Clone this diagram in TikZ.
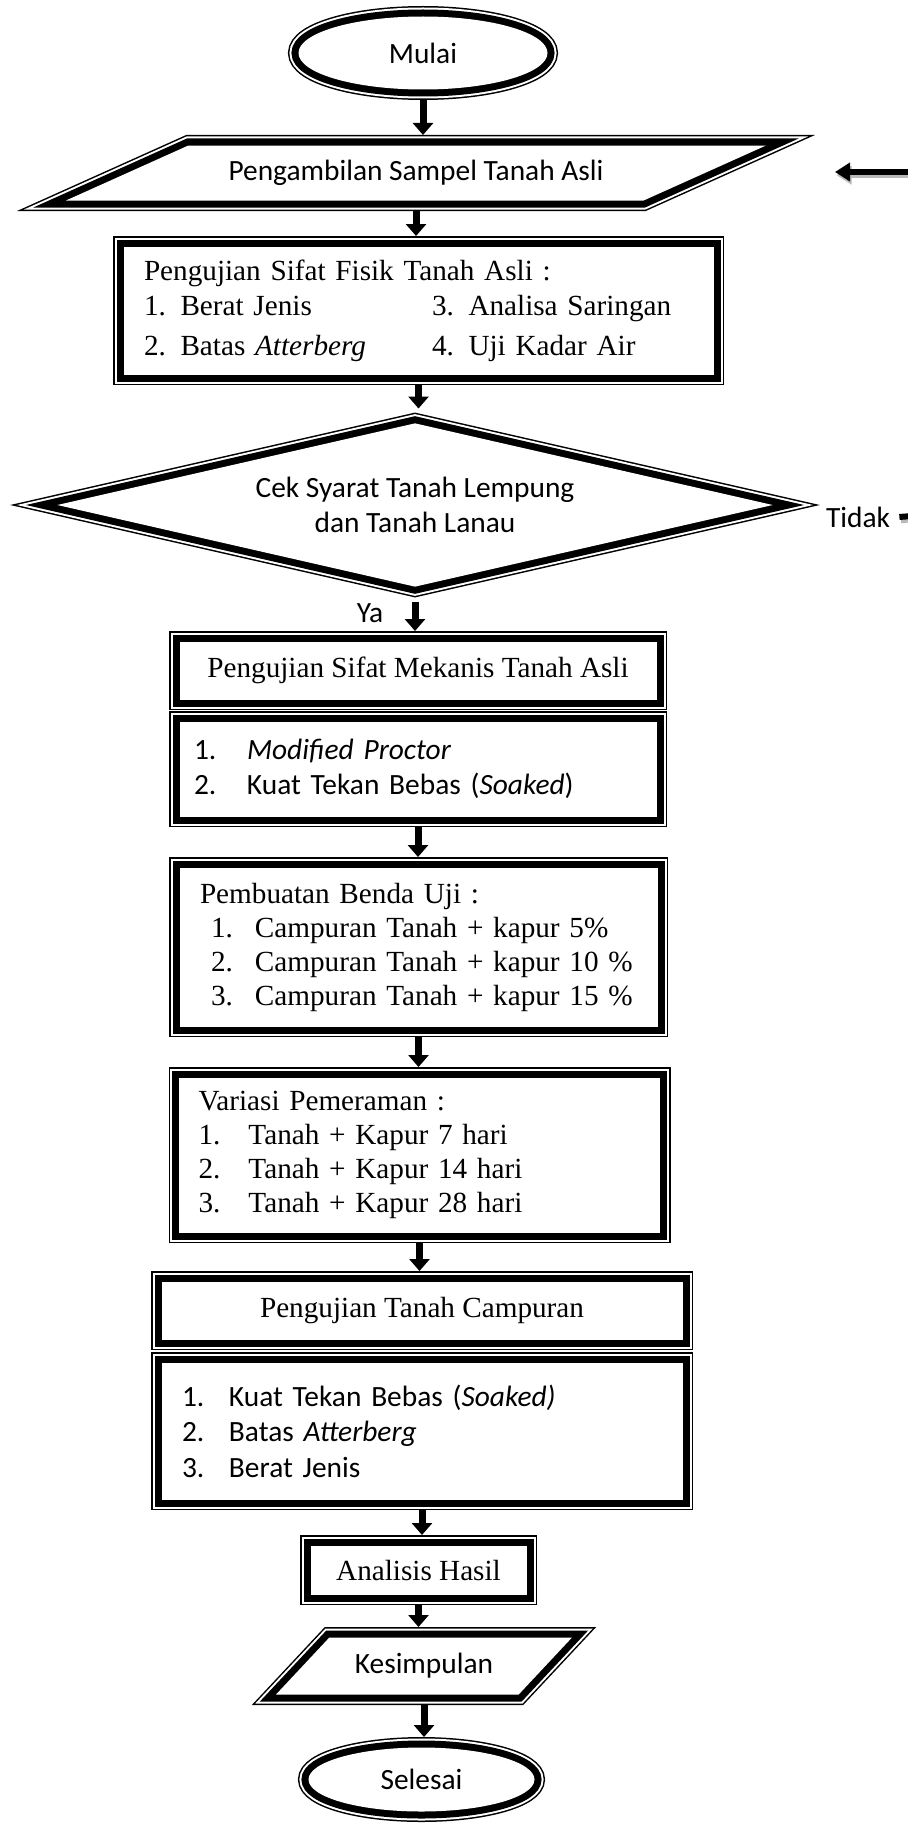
\documentclass[tikz,border=0pt]{standalone}
\usepackage{fontspec}
\setmainfont{Liberation Serif}
\newfontfamily\calibri{Carlito}
\usepackage{tikz}
\usetikzlibrary{shapes,arrows.meta}
\newcommand{\nomor}[2][26.5pt]{\makebox[#1][l]{#2}}
\tikzstyle{triple}=[preaction={draw,line width=10.5pt},preaction={draw=white,line width=9pt},draw,line width=7pt,postaction={fill=white,draw=none},outer sep=5.25pt,inner sep=0pt]
\tikzstyle{serif}=[font=\fontsize{14.6pt}{17pt}\selectfont]
\tikzstyle{sans}=[font=\fontsize{14.7pt}{17.75pt}\selectfont\calibri]
\tikzstyle{box}=[triple,rectangle,serif]
\tikzstyle{terminal}=[triple,ellipse,sans]
\tikzstyle{io}=[triple,trapezium,trapezium stretches body,sans,text height=10pt,text depth=3pt]
\tikzstyle{decision}=[triple,diamond,aspect=4.6,sans,align=center]
\tikzstyle{arr}=[line width=3.5pt,-{Triangle[width=10pt,length=6pt]}]
\tikzstyle{shadowed}=[line width=3pt,preaction={draw=gray!55,line width=3pt,transform canvas={xshift=0.8pt,yshift=-1.6pt}}]

\begin{document}
\begin{tikzpicture}[x=0.5pt,y=-0.5pt]
\useasboundingbox (0,0) rectangle (908,1825);

\node[terminal,minimum width=124.5pt,minimum height=36.5pt] (mulai) at (423,53) {Mulai};
\node[io,trapezium left angle=24.2,trapezium right angle=155.8,minimum width=350pt,inner ysep=7.25pt] (ambil) at (416,173) {Pengambilan Sampel Tanah Asli};
\node[box,minimum width=295pt,minimum height=64pt,inner xsep=10.25pt,text width=274.5pt,align=left,font=\fontsize{14.6pt}{17.5pt}\selectfont] (fisik) at (418.5,310.5) {Pengujian Sifat Fisik Tanah Asli :\\
  \makebox[144pt][l]{1. Berat Jenis}3. Analisa Saringan\\[2.5pt]
  \makebox[144pt][l]{2. Batas \textit{Atterberg}}4. Uji Kadar Air};
\node[decision,minimum width=362pt,minimum height=86pt] (cek) at (415,505) {Cek Syarat Tanah Lempung\\dan Tanah Lanau};
\node[sans] (ya) at (370,613) {Ya};
\node[sans,inner xsep=4.5pt] (tidak) at (858,517) {Tidak};

\node[box,minimum width=238.5pt,minimum height=29pt] (mekanis) at (418,670.5) {Pengujian Sifat Mekanis Tanah Asli};
\node[box,sans,minimum width=238.5pt,minimum height=47.5pt,inner xsep=7.25pt,text width=224pt,align=left] (mekanisuji) at (418,769) {\nomor{1.}\textit{Modified Proctor}\\
  \nomor{2.}Kuat Tekan Bebas (\textit{Soaked})};
\node[box,minimum width=239pt,minimum height=79.5pt,inner xsep=10.25pt,text width=218.5pt,align=left] (benda) at (418.5,947) {Pembuatan Benda Uji :\\
  \hspace*{5.5pt}\nomor[22pt]{1.}Campuran Tanah + kapur 5\%\\
  \hspace*{5.5pt}\nomor[22pt]{2.}Campuran Tanah + kapur 10 \%\\
  \hspace*{5.5pt}\nomor[22pt]{3.}Campuran Tanah + kapur 15 \%};
\node[box,minimum width=240.5pt,minimum height=77.5pt,inner xsep=9.75pt,text width=221pt,align=left] (variasi) at (419.5,1155) {Variasi Pemeraman :\\
  \nomor[25pt]{1.}Tanah + Kapur 7 hari\\
  \nomor[25pt]{2.}Tanah + Kapur 14 hari\\
  \nomor[25pt]{3.}Tanah + Kapur 28 hari};
\node[box,minimum width=260.5pt,minimum height=29pt] (campuran) at (422,1310.5) {Pengujian Tanah Campuran};
\node[box,sans,minimum width=260.5pt,minimum height=68.5pt,inner xsep=10.25pt,text width=240pt,align=left] (campuranuji) at (422,1431) {\nomor[23.5pt]{1.}Kuat Tekan Bebas (\textit{Soaked)}\\
  \nomor[23.5pt]{2.}Batas \textit{Atterberg}\\
  \nomor[23.5pt]{3.}Berat Jenis};
\node[box,minimum width=108pt,minimum height=24.5pt] (analisis) at (418.5,1570) {Analisis Hasil};
\node[io,trapezium left angle=46.9,trapezium right angle=133.1,minimum width=148pt,inner ysep=7.75pt] (kesimpulan) at (424,1666) {Kesimpulan};
\node[terminal,minimum width=113pt,minimum height=32pt] (selesai) at (421.5,1779.5) {Selesai};

\foreach \a/\b in {mulai/ambil,ambil/fisik,fisik/cek,cek/mekanis,mekanisuji/benda,benda/variasi,variasi/campuran,campuranuji/analisis,analisis/kesimpulan,kesimpulan/selesai}
  \draw[arr] (\a.south) -- (\a.south |- \b.north);

\coordinate (balikawal) at (912,172);
\coordinate (balikujung) at (835,172);
\coordinate (tidakujung) at (912,516);
\draw[shadowed,-{Triangle[width=9pt,length=7.5pt]}] (balikawal) -- (balikujung);
\draw[shadowed] (tidak.east) -- (tidakujung);
\end{tikzpicture}
\end{document}
